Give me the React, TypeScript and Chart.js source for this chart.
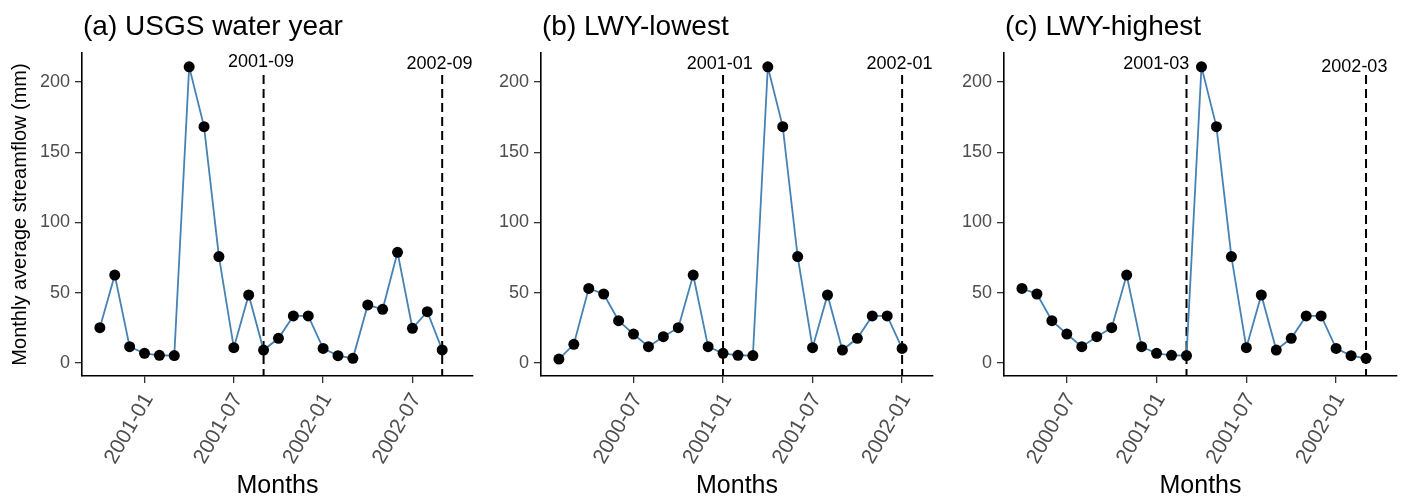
import React, { useEffect, useRef } from "react";
import { Chart, registerables } from "chart.js";

Chart.register(...registerables);

// ---------- data ----------
const months = [
  "2000-02", "2000-03", "2000-04", "2000-05", "2000-06", "2000-07", "2000-08", "2000-09", "2000-10", "2000-11", "2000-12",
  "2001-01", "2001-02", "2001-03", "2001-04", "2001-05", "2001-06", "2001-07", "2001-08", "2001-09", "2001-10", "2001-11", "2001-12",
  "2002-01", "2002-02", "2002-03", "2002-04", "2002-05", "2002-06", "2002-07", "2002-08", "2002-09",
];
const streamflow = [
  2.8, 13.3, 53.1, 49.1, 30.1, 20.6, 11.6, 18.7, 25.1, 62.6, 11.6,
  6.9, 5.5, 5.3, 210.8, 168.2, 75.7, 10.9, 48.4, 9.2, 17.6, 33.5, 33.5,
  10.4, 5.2, 3.3, 41.3, 38.2, 78.8, 24.7, 36.5, 9.3,
];

const panelTitles = ["(a) USGS water year", "(b) LWY-lowest", "(c) LWY-highest"];
const panelStartMonths = ["2000-10", "2000-02", "2000-04"];
const panelMonthCount = 24;
const vlineMonthsA = ["2001-09", "2002-09"];
const vlineMonthsB = ["2001-01", "2002-01"];
const vlineMonthsC = ["2001-03", "2002-03"];
const xTickMonthsA = ["2001-01", "2001-07", "2002-01", "2002-07"];
const xTickMonthsB = ["2000-07", "2001-01", "2001-07", "2002-01"];
const xTickMonthsC = ["2000-07", "2001-01", "2001-07", "2002-01"];
const yTicks = [0, 50, 100, 150, 200];
const yTitle = "Monthly average streamflow (mm)";
const xTitle = "Months";

// ---------- layout / style ----------
const FONT = "'Liberation Sans', Arial, Helvetica, sans-serif";
const W = 1408;
const H = 502;
const PLOT_TOP = 53;
const PLOT_BOTTOM = 376;
const Y_MIN = -9.25;
const Y_MAX = 220.6;
const VLINE_TOP = 205;

const panels = [
  {
    title: panelTitles[0], start: panelStartMonths[0], vlines: vlineMonthsA, ticks: xTickMonthsA,
    labelShift: [-0.17, -0.18], labelY: [210.5, 209.5],
    left: 0, width: 480, yWidth: 82, padRight: 7, showYTitle: true,
  },
  {
    title: panelTitles[1], start: panelStartMonths[1], vlines: vlineMonthsB, ticks: xTickMonthsB,
    labelShift: [-0.22, -0.18], labelY: [209.5, 209],
    left: 480, width: 465, yWidth: 61, padRight: 12, showYTitle: false,
  },
  {
    title: panelTitles[2], start: panelStartMonths[2], vlines: vlineMonthsC, ticks: xTickMonthsC,
    labelShift: [-2.02, -0.78], labelY: [209, 207],
    left: 945, width: 463, yWidth: 59, padRight: 11, showYTitle: false,
  },
];

function monthIndex(m: string): number {
  const [y, mo] = m.split("-").map(Number);
  return (y - 2000) * 12 + (mo - 1);
}
function monthLabel(i: number): string {
  const y = 2000 + Math.floor(i / 12);
  const mo = Math.round(i - (y - 2000) * 12) + 1;
  return `${y}-${String(mo).padStart(2, "0")}`;
}

const annotPlugin = {
  id: "annot",
  beforeDatasetsDraw(chart: any, _args: any, opts: any) {
    const { ctx, chartArea, scales } = chart;
    ctx.save();
    ctx.strokeStyle = "#000";
    ctx.lineWidth = 2;
    ctx.setLineDash([9, 5]);
    (opts.vlines as string[]).forEach((m) => {
      const x = scales.x.getPixelForValue(monthIndex(m));
      ctx.beginPath();
      ctx.moveTo(x, scales.y.getPixelForValue(VLINE_TOP));
      ctx.lineTo(x, chartArea.bottom);
      ctx.stroke();
    });
    ctx.restore();
  },
  afterDraw(chart: any, _args: any, opts: any) {
    const { ctx, chartArea, scales } = chart;
    ctx.save();
    // title
    ctx.fillStyle = "#000";
    ctx.font = `28px ${FONT}`;
    ctx.textAlign = "left";
    ctx.textBaseline = "alphabetic";
    ctx.fillText(opts.title, chartArea.left + 1, 35);
    // vline labels
    ctx.font = `18px ${FONT}`;
    ctx.textAlign = "center";
    (opts.vlines as string[]).forEach((m, i) => {
      const x = scales.x.getPixelForValue(monthIndex(m) + opts.labelShift[i]);
      const y = scales.y.getPixelForValue(opts.labelY[i]);
      ctx.fillText(m, x, y);
    });
    ctx.restore();
  },
};

function Panel({ cfg }: { cfg: (typeof panels)[number] }) {
  const ref = useRef<HTMLCanvasElement | null>(null);
  useEffect(() => {
    if (!ref.current) return;
    const s = months.indexOf(cfg.start);
    const pm = months.slice(s, s + panelMonthCount);
    const pv = streamflow.slice(s, s + panelMonthCount);
    const pts = pm.map((m, i) => ({ x: monthIndex(m), y: pv[i] }));
    const first = monthIndex(pm[0]);
    const last = monthIndex(pm[pm.length - 1]);
    const tickVals = cfg.ticks.map(monthIndex);

    const chart = new Chart(ref.current, {
      type: "line",
      data: {
        datasets: [
          {
            data: pts,
            borderColor: "#4682b4",
            borderWidth: 1.8,
            pointRadius: 5.5,
            pointBackgroundColor: "#000",
            pointBorderColor: "#000",
            pointBorderWidth: 0,
            tension: 0,
            fill: false,
          },
        ],
      },
      plugins: [annotPlugin as any],
      options: {
        animation: false,
        responsive: false,
        maintainAspectRatio: false,
        devicePixelRatio: 1,
        events: [],
        layout: { padding: { left: 0, right: cfg.padRight, top: PLOT_TOP, bottom: 0 } },
        plugins: {
          legend: { display: false },
          tooltip: { enabled: false },
          title: { display: false },
          annot: {
            title: cfg.title,
            vlines: cfg.vlines,
            labelShift: cfg.labelShift,
            labelY: cfg.labelY,
          },
        } as any,
        scales: {
          x: {
            type: "linear",
            min: first - 1.2,
            max: last + 2.07,
            afterBuildTicks: (sc: any) => {
              sc.ticks = tickVals.map((v) => ({ value: v }));
            },
            afterFit: (sc: any) => {
              sc.height = H - PLOT_BOTTOM;
            },
            ticks: {
              autoSkip: false,
              minRotation: 60,
              maxRotation: 60,
              padding: 6,
              labelOffset: 4,
              color: "#4d4d4d",
              font: { family: FONT, size: 21 },
              callback: (v: any) => monthLabel(Number(v)),
            },
            grid: {
              display: true,
              drawOnChartArea: false,
              drawTicks: true,
              tickLength: 7,
              tickColor: "#333",
              lineWidth: 1.3,
            },
            border: { display: true, color: "#000", width: 1.6 },
            title: {
              display: true,
              text: xTitle,
              color: "#000",
              font: { family: FONT, size: 25 },
              padding: { top: 0, bottom: 1 },
            },
          },
          y: {
            type: "linear",
            min: Y_MIN,
            max: Y_MAX,
            afterBuildTicks: (sc: any) => {
              sc.ticks = yTicks.map((v) => ({ value: v }));
            },
            afterFit: (sc: any) => {
              sc.width = cfg.yWidth;
            },
            ticks: {
              padding: 5,
              color: "#4d4d4d",
              font: { family: FONT, size: 18 },
            },
            grid: {
              display: true,
              drawOnChartArea: false,
              drawTicks: true,
              tickLength: 7,
              tickColor: "#333",
              lineWidth: 1.3,
            },
            border: { display: true, color: "#000", width: 1.6 },
            title: {
              display: cfg.showYTitle,
              text: yTitle,
              color: "#000",
              font: { family: FONT, size: 20 },
              padding: { top: 8, bottom: 0 },
            },
          },
        },
      } as any,
    });
    return () => chart.destroy();
  }, [cfg]);

  return (
    <canvas
      ref={ref}
      width={cfg.width}
      height={H}
      style={{ position: "absolute", left: cfg.left, top: 0, width: cfg.width, height: H }}
    />
  );
}

export default function App() {
  return (
    <div style={{ position: "absolute", left: 0, top: 0, width: W, height: H, background: "#fff" }}>
      {panels.map((p) => (
        <Panel key={p.title} cfg={p} />
      ))}
    </div>
  );
}
